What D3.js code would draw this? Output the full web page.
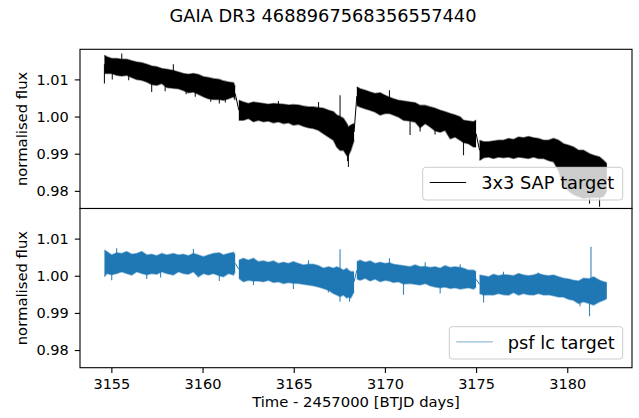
<!DOCTYPE html>
<html>
<head>
<meta charset="utf-8">
<script src="https://cdn.jsdelivr.net/npm/d3@7"></script>
<style>
  body { margin: 0; background: #fff; }
  svg text { font-family: "DejaVu Sans", sans-serif; }
</style>
</head>
<body>
<svg id="chart"></svg>
<script>
// light curve: upper / lower edge of the noise band per time sample
const time = [
  3154.62, 3154.75, 3155.02, 3155.29, 3155.57, 3155.84, 3156.12, 3156.39, 3156.67, 3156.94,
  3157.21, 3157.49, 3157.76, 3158.04, 3158.40, 3158.68, 3158.95, 3159.22, 3159.50, 3159.77,
  3160.05, 3160.32, 3160.59, 3160.92, 3161.14, 3161.42, 3161.70, 3161.79,
  3161.99, 3162.24, 3162.51, 3162.79, 3163.06, 3163.34, 3163.61, 3163.89, 3164.16, 3164.44,
  3164.71, 3164.98, 3165.26, 3165.53, 3165.81, 3166.08, 3166.36, 3166.63, 3166.91, 3167.18,
  3167.36, 3167.54, 3167.73, 3167.91, 3168.00, 3168.13, 3168.31,
  3168.46, 3168.64, 3168.92, 3169.19, 3169.46, 3169.74, 3170.01, 3170.25, 3170.47, 3170.74,
  3171.02, 3171.38, 3171.66, 3171.93, 3172.21, 3172.48, 3172.75, 3173.03, 3173.30, 3173.58,
  3173.85, 3174.13, 3174.31, 3174.58, 3174.86, 3175.00,
  3175.19, 3175.41, 3175.68, 3175.95, 3176.23, 3176.50, 3176.78, 3177.05, 3177.33, 3177.60,
  3177.87, 3178.15, 3178.42, 3178.70, 3178.97, 3179.25, 3179.52, 3179.79, 3180.07, 3180.34,
  3180.62, 3180.89, 3181.22, 3181.44, 3181.77, 3181.99, 3182.17
];
// first sample of each data chunk (the line jumps between chunks)
const chunkStarts = [3154.62, 3161.99, 3168.46, 3175.19];

const sapHi = [
  1.0165, 1.0161, 1.0156, 1.0156, 1.0154, 1.0154, 1.0150, 1.0147, 1.0145, 1.0141,
  1.0136, 1.0134, 1.0129, 1.0127, 1.0124, 1.0120, 1.0116, 1.0114, 1.0116, 1.0113,
  1.0107, 1.0105, 1.0102, 1.0100, 1.0096, 1.0093, 1.0091, 1.0080,
  1.0044, 1.0039, 1.0035, 1.0039, 1.0037, 1.0035, 1.0033, 1.0035, 1.0034, 1.0033,
  1.0031, 1.0032, 1.0031, 1.0028, 1.0026, 1.0026, 1.0024, 1.0022, 1.0017, 1.0013,
  1.0004, 1.0000, 0.9995, 0.9981, 0.9972, 0.9977, 0.9981,
  1.0080, 1.0075, 1.0071, 1.0066, 1.0062, 1.0064, 1.0057, 1.0052, 1.0048, 1.0044,
  1.0042, 1.0039, 1.0037, 1.0030, 1.0030, 1.0026, 1.0022, 1.0017, 1.0013, 1.0008,
  1.0004, 0.9999, 0.9990, 0.9988, 0.9986, 0.9990,
  0.9936, 0.9932, 0.9932, 0.9934, 0.9936, 0.9936, 0.9941, 0.9938, 0.9945, 0.9943,
  0.9946, 0.9943, 0.9941, 0.9936, 0.9936, 0.9941, 0.9936, 0.9927, 0.9923, 0.9918,
  0.9909, 0.9909, 0.9900, 0.9896, 0.9891, 0.9882, 0.9873
];
const sapLo = [
  1.0116, 1.0116, 1.0116, 1.0111, 1.0109, 1.0111, 1.0105, 1.0100, 1.0098, 1.0093,
  1.0086, 1.0084, 1.0089, 1.0078, 1.0076, 1.0075, 1.0070, 1.0064, 1.0066, 1.0060,
  1.0053, 1.0048, 1.0046, 1.0046, 1.0044, 1.0048, 1.0053, 1.0044,
  0.9990, 0.9990, 0.9995, 0.9986, 0.9990, 0.9986, 0.9988, 0.9983, 0.9986, 0.9981,
  0.9983, 0.9977, 0.9979, 0.9974, 0.9970, 0.9968, 0.9963, 0.9954, 0.9945, 0.9936,
  0.9918, 0.9909, 0.9909, 0.9895, 0.9895, 0.9909, 0.9936,
  1.0030, 1.0026, 1.0021, 1.0017, 1.0012, 1.0004, 1.0008, 1.0008, 1.0004, 0.9999,
  0.9990, 0.9988, 0.9985, 0.9970, 0.9981, 0.9972, 0.9962, 0.9958, 0.9963, 0.9940,
  0.9945, 0.9936, 0.9930, 0.9927, 0.9918, 0.9918,
  0.9882, 0.9889, 0.9891, 0.9887, 0.9891, 0.9889, 0.9891, 0.9887, 0.9891, 0.9889,
  0.9887, 0.9891, 0.9887, 0.9887, 0.9882, 0.9878, 0.9855, 0.9815, 0.9800, 0.9790,
  0.9785, 0.9780, 0.9782, 0.9782, 0.9782, 0.9785, 0.9800
];
// single-cadence outliers sticking out of the band: [day, flux]
const sapSpikes = [
  [3154.62, 1.0089], [3155.05, 1.0100], [3155.57, 1.0170], [3155.95, 1.0098],
  [3157.21, 1.0066], [3157.95, 1.0068], [3158.40, 1.0141], [3159.10, 1.0060],
  [3159.60, 1.0053], [3160.45, 1.0040], [3160.92, 1.0035], [3161.25, 1.0038],
  [3164.16, 1.0042], [3166.36, 1.0039], [3167.54, 1.0057], [3167.95, 0.9880],
  [3168.00, 0.9864], [3170.25, 1.0071], [3171.38, 0.9950], [3171.93, 0.9960],
  [3172.75, 0.9952], [3174.31, 0.9896], [3181.22, 0.9765], [3181.77, 0.9757]
];

const psfHi = [
  1.0069, 1.0065, 1.0056, 1.0062, 1.0060, 1.0065, 1.0058, 1.0060, 1.0065, 1.0056,
  1.0058, 1.0054, 1.0060, 1.0056, 1.0060, 1.0056, 1.0058, 1.0054, 1.0060, 1.0056,
  1.0051, 1.0056, 1.0060, 1.0062, 1.0056, 1.0060, 1.0063, 1.0056,
  1.0042, 1.0047, 1.0042, 1.0047, 1.0038, 1.0040, 1.0036, 1.0040, 1.0033, 1.0036,
  1.0033, 1.0038, 1.0033, 1.0029, 1.0031, 1.0031, 1.0027, 1.0020, 1.0024, 1.0020,
  1.0024, 1.0020, 1.0015, 1.0020, 1.0015, 1.0011, 1.0011,
  1.0038, 1.0042, 1.0036, 1.0040, 1.0033, 1.0036, 1.0033, 1.0035, 1.0031, 1.0029,
  1.0027, 1.0024, 1.0029, 1.0024, 1.0025, 1.0022, 1.0024, 1.0020, 1.0027, 1.0022,
  1.0024, 1.0022, 1.0020, 1.0015, 1.0015, 1.0011,
  1.0002, 1.0000, 0.9997, 1.0004, 1.0000, 1.0003, 1.0002, 1.0000, 1.0006, 1.0002,
  1.0000, 1.0002, 1.0006, 1.0002, 1.0000, 1.0002, 0.9997, 0.9993, 0.9991, 0.9988,
  0.9986, 0.9993, 0.9992, 0.9997, 0.9988, 0.9984, 0.9982
];
const psfLo = [
  0.9997, 1.0006, 1.0003, 1.0006, 1.0011, 1.0006, 1.0002, 1.0011, 1.0006, 1.0003,
  1.0006, 1.0004, 1.0011, 1.0006, 1.0002, 1.0011, 1.0006, 1.0004, 1.0011, 0.9997,
  1.0006, 1.0002, 1.0006, 1.0000, 0.9997, 1.0006, 1.0002, 1.0011,
  0.9993, 0.9984, 0.9988, 0.9986, 0.9986, 0.9984, 0.9988, 0.9982, 0.9984, 0.9979,
  0.9982, 0.9980, 0.9979, 0.9977, 0.9975, 0.9973, 0.9970, 0.9966, 0.9961, 0.9952,
  0.9948, 0.9944, 0.9948, 0.9940, 0.9943, 0.9940, 0.9957,
  0.9991, 0.9988, 0.9993, 0.9986, 0.9991, 0.9984, 0.9988, 0.9986, 0.9982, 0.9984,
  0.9978, 0.9979, 0.9977, 0.9975, 0.9979, 0.9973, 0.9970, 0.9968, 0.9970, 0.9966,
  0.9968, 0.9964, 0.9966, 0.9968, 0.9964, 0.9970,
  0.9952, 0.9948, 0.9949, 0.9948, 0.9952, 0.9949, 0.9948, 0.9955, 0.9948, 0.9952,
  0.9949, 0.9948, 0.9952, 0.9948, 0.9949, 0.9946, 0.9943, 0.9943, 0.9937, 0.9934,
  0.9925, 0.9930, 0.9925, 0.9921, 0.9930, 0.9934, 0.9939
];
const psfSpikes = [
  [3155.02, 0.9988], [3155.29, 1.0074], [3156.94, 0.9991], [3157.70, 0.9995],
  [3159.50, 1.0072], [3160.92, 0.9986], [3162.79, 0.9975], [3164.98, 0.9964],
  [3165.81, 1.0042], [3166.90, 0.9955], [3167.54, 1.0071], [3167.54, 0.9930],
  [3168.06, 0.9930], [3170.25, 1.0047], [3171.02, 0.9949], [3172.21, 1.0036],
  [3173.03, 0.9952], [3174.13, 1.0031], [3175.41, 0.9928], [3176.50, 1.0011],
  [3178.40, 1.0009], [3180.70, 0.9918], [3181.22, 0.9891], [3181.30, 1.0078]
];

const xTicks = [3155, 3160, 3165, 3170, 3175, 3180];
const yTicks = [0.98, 0.99, 1.00, 1.01];
const title = "GAIA DR3 4688967568356557440";
const xLabel = "Time - 2457000 [BTJD days]";
const yLabel = "normalised flux";

const width = 639, height = 418;
const left = 80, right = 632, panelH = 159.2;
const panels = [
  {top: 49.3, hi: sapHi, lo: sapLo, spikes: sapSpikes, color: "#000000", edge: 1, name: "3x3 SAP target",
   legend: {x: 422.7, y: 167.3, w: 200, h: 32.7}},
  {top: 208.5, hi: psfHi, lo: psfLo, spikes: psfSpikes, color: "#1f77b4", edge: 0.6, name: "psf lc target",
   legend: {x: 449.3, y: 326.7, w: 173.4, h: 32.3}}
];

const svg = d3.select("#chart").attr("width", width).attr("height", height);
svg.append("rect").attr("width", width).attr("height", height).attr("fill", "#fff");

const x = d3.scaleLinear().domain([3153.28, 3183.55]).range([left, right]);

// split samples into chunks
function chunks(hi, lo) {
  let out = [];
  time.forEach(function(t, i) {
    if (chunkStarts.indexOf(t) >= 0) out.push([]);
    out[out.length - 1].push({t: t, hi: hi[i], lo: lo[i]});
  });
  return out;
}

panels.forEach(function(p, k) {
  const y = d3.scaleLinear().domain([0.97525, 1.0181]).range([p.top + panelH, p.top]);
  const g = svg.append("g");
  const clipId = "clip" + k;
  svg.append("clipPath").attr("id", clipId)
    .append("rect").attr("x", left).attr("y", p.top).attr("width", right - left).attr("height", panelH);

  g.append("rect").attr("x", left).attr("y", p.top).attr("width", right - left).attr("height", panelH)
    .attr("fill", "#fff");

  const data = g.append("g").attr("clip-path", "url(#" + clipId + ")");
  const parts = chunks(p.hi, p.lo);

  const area = d3.area().x(d => x(d.t)).y0(d => y(d.lo)).y1(d => y(d.hi));
  const edgeHi = d3.line().x(d => x(d.t)).y(d => y(d.hi));
  const edgeLo = d3.line().x(d => x(d.t)).y(d => y(d.lo));
  const mid = d => y((d.hi + d.lo) / 2);

  parts.forEach(function(seg, i) {
    data.append("path").attr("d", area(seg)).attr("fill", p.color);
    [edgeHi, edgeLo].forEach(function(fn) {
      data.append("path").attr("d", fn(seg)).attr("fill", "none")
        .attr("stroke", p.color).attr("stroke-width", 1.6).attr("stroke-opacity", 0.45);
    });
    if (i > 0) {
      const a = parts[i - 1][parts[i - 1].length - 1], b = seg[0];
      data.append("line")
        .attr("x1", x(a.t)).attr("y1", mid(a)).attr("x2", x(b.t)).attr("y2", mid(b))
        .attr("stroke", p.color).attr("stroke-width", 1);
    }
  });

  // outliers: thin strokes from the band centre out to the read value
  const centre = d3.scaleLinear().domain(time).range(time.map((t, i) => (p.hi[i] + p.lo[i]) / 2));
  data.selectAll(".spike").data(p.spikes).join("line").attr("class", "spike")
    .attr("x1", d => x(d[0])).attr("x2", d => x(d[0]))
    .attr("y1", d => y(centre(d[0]))).attr("y2", d => y(d[1]))
    .attr("stroke", p.color).attr("stroke-width", 1.1).attr("stroke-opacity", 0.9);

  // y axis
  const ya = g.append("g").attr("transform", "translate(" + left + ",0)")
    .call(d3.axisLeft(y).tickValues(yTicks).tickFormat(d3.format(".2f")).tickSize(5.2).tickPadding(6));
  ya.select(".domain").remove();
  ya.selectAll(".tick line").attr("stroke", "#000").attr("stroke-width", 1.1);
  ya.selectAll(".tick text").attr("font-family", "DejaVu Sans").attr("font-size", 14.5).attr("fill", "#000");

  g.append("text").attr("transform", "translate(27," + (p.top + panelH / 2) + ") rotate(-90)")
    .attr("text-anchor", "middle").attr("font-size", 14.8).text(yLabel);

  // spines
  g.append("rect").attr("x", left).attr("y", p.top).attr("width", right - left).attr("height", panelH)
    .attr("fill", "none").attr("stroke", "#000").attr("stroke-width", 1.1);

  // legend
  const L = p.legend;
  g.append("rect").attr("x", L.x).attr("y", L.y).attr("width", L.w).attr("height", L.h)
    .attr("rx", 3).attr("fill", "#fff").attr("fill-opacity", 0.8)
    .attr("stroke", "#cccccc").attr("stroke-width", 1);
  g.append("line").attr("x1", L.x + 7).attr("x2", L.x + 43.5)
    .attr("y1", L.y + 15.2).attr("y2", L.y + 15.2)
    .attr("stroke", p.color).attr("stroke-width", 1).attr("stroke-opacity", p.edge);
  g.append("text").attr("x", L.x + 58.5).attr("y", L.y + 21.8)
    .attr("font-size", 17.8).attr("fill", "#000").text(p.name);

  // x axis only on the lower panel
  if (k === panels.length - 1) {
    const xa = g.append("g").attr("transform", "translate(0," + (p.top + panelH) + ")")
      .call(d3.axisBottom(x).tickValues(xTicks).tickFormat(d3.format("d")).tickSize(5.2).tickPadding(6));
    xa.select(".domain").remove();
    xa.selectAll(".tick line").attr("stroke", "#000").attr("stroke-width", 1.1);
    xa.selectAll(".tick text").attr("font-family", "DejaVu Sans").attr("font-size", 14.5).attr("fill", "#000");
    g.append("text").attr("x", (left + right) / 2).attr("y", 407)
      .attr("text-anchor", "middle").attr("font-size", 14.8).text(xLabel);
  }
});

svg.append("text").attr("x", 323).attr("y", 21.7).attr("text-anchor", "middle")
  .attr("font-size", 17.8).attr("fill", "#000").text(title);
</script>
</body>
</html>
